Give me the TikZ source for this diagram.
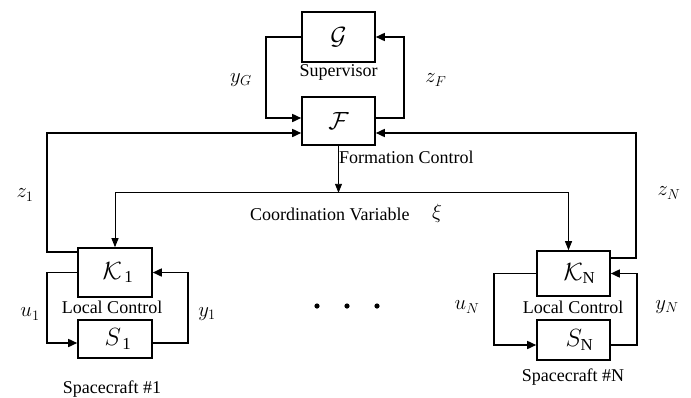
\documentclass[tikz,border=0pt]{standalone}
\usepackage{fontspec}
\setmainfont{Liberation Serif}
\usetikzlibrary{arrows.meta,calc}
\begin{document}
\begin{tikzpicture}[x=1pt,y=-1pt,
  blk/.style={draw,line width=1.6pt,minimum width=73pt,inner sep=0pt,font=\fontsize{24}{28}\selectfont},
  arr/.style={line width=1.6pt,-{Triangle[length=9pt,width=8pt]}},
  tarr/.style={line width=0.9pt,-{Triangle[length=9pt,width=7pt]}},
  txt/.style={font=\fontsize{18}{21}\selectfont,inner sep=0pt},
  lbl/.style={font=\fontsize{21}{25}\selectfont,inner sep=0pt},
  dotc/.style={fill=black,draw=none}]
\useasboundingbox (0,0) rectangle (691,397);
% blocks
\node[blk,minimum height=50pt] (G) at (338.5,37) {$\mathcal{G}$};
\node[blk,minimum height=48pt] (F) at (338.5,121) {$\mathcal{F}$};
\node[blk,minimum width=74pt,minimum height=49pt] (K1) at (115,272.5) {\hspace*{6pt}$\mathcal{K}_{\,\mathrm{1}}$};
\node[blk,minimum width=74pt,minimum height=38pt] (S1) at (115,339) {\hspace*{6pt}$S_{\,\mathrm{1}}$};
\node[blk,minimum height=45pt] (KN) at (573.5,273.5) {\hspace*{12pt}$\mathcal{K}_{\mathrm{N}}$};
\node[blk,minimum height=40pt] (SN) at (573.5,340) {\hspace*{12pt}$S_{\mathrm{N}}$};
% texts
\node[txt] (sup) at (338.5,72) {Supervisor};
\node[txt,anchor=west] (fc) at (339,157) {Formation Control};
\node[txt,anchor=west] (cvt) at (250,214) {Coordination Variable};
\node[lbl] (xi) at (437,213) {$\xi$};
\node[txt] (lc1) at (112,307) {Local Control};
\node[txt] (lcN) at (573,307) {Local Control};
\node[txt] (sc1) at (112,389) {Spacecraft \#1};
\node[txt] (scN) at (573,377) {Spacecraft \#N};
% labels
\node[lbl] (yG) at (241,80) {$y_G$};
\node[lbl] (zF) at (436,80) {$z_F$};
\node[lbl] (z1) at (25,195) {$z_1$};
\node[lbl] (u1) at (30,314) {$u_1$};
\node[lbl] (y1) at (207,314) {$y_1$};
\node[lbl] (uN) at (467,307) {$u_N$};
\node[lbl] (yN) at (667,307) {$y_N$};
\node[lbl] (zN) at (669,193) {$z_N$};
% dots
\fill[dotc] (317,306) circle (2.6pt);
\fill[dotc] (347,306) circle (2.6pt);
\fill[dotc] (377,306) circle (2.6pt);
% supervisor loop
\draw[arr] (G.west) -- ++(-35,0) |- ($(F.west)+(0,-3)$);
\draw[arr] ($(F.east)+(0,-3)$) -- ++(28,0) |- (G.east);
% outer loops
\draw[arr] ($(K1.north west)+(0,5)$) -- ++(-30,0) |- ($(F.west)+(0,12)$);
\draw[arr] ($(KN.north east)+(0,8)$) -- ++(25,0) |- ($(F.east)+(0,12)$);
% coordination variable
\draw[tarr] (F.south) -- ++(0,47) coordinate (cv);
\coordinate (cvL) at (K1.north |- cv);
\coordinate (cvR) at ($(KN.north |- cv)+(-5,0)$);
\draw[line width=0.9pt] (cvL) -- (cvR);
\draw[tarr] (cvL) -- (K1.north);
\draw[tarr] (cvR) -- (cvR |- KN.north);
% local loops
\draw[arr] (K1.west) -- ++(-30,0) |- ($(S1.west)+(0,4)$);
\draw[arr] ($(S1.east)+(0,4)$) -- ++(35,0) |- (K1.east);
\draw[arr] (KN.west) -- ++(-42,0) |- ($(SN.west)+(0,5)$);
\draw[arr] ($(SN.east)+(0,5)$) -- ++(26,0) |- (KN.east);
\end{tikzpicture}
\end{document}
